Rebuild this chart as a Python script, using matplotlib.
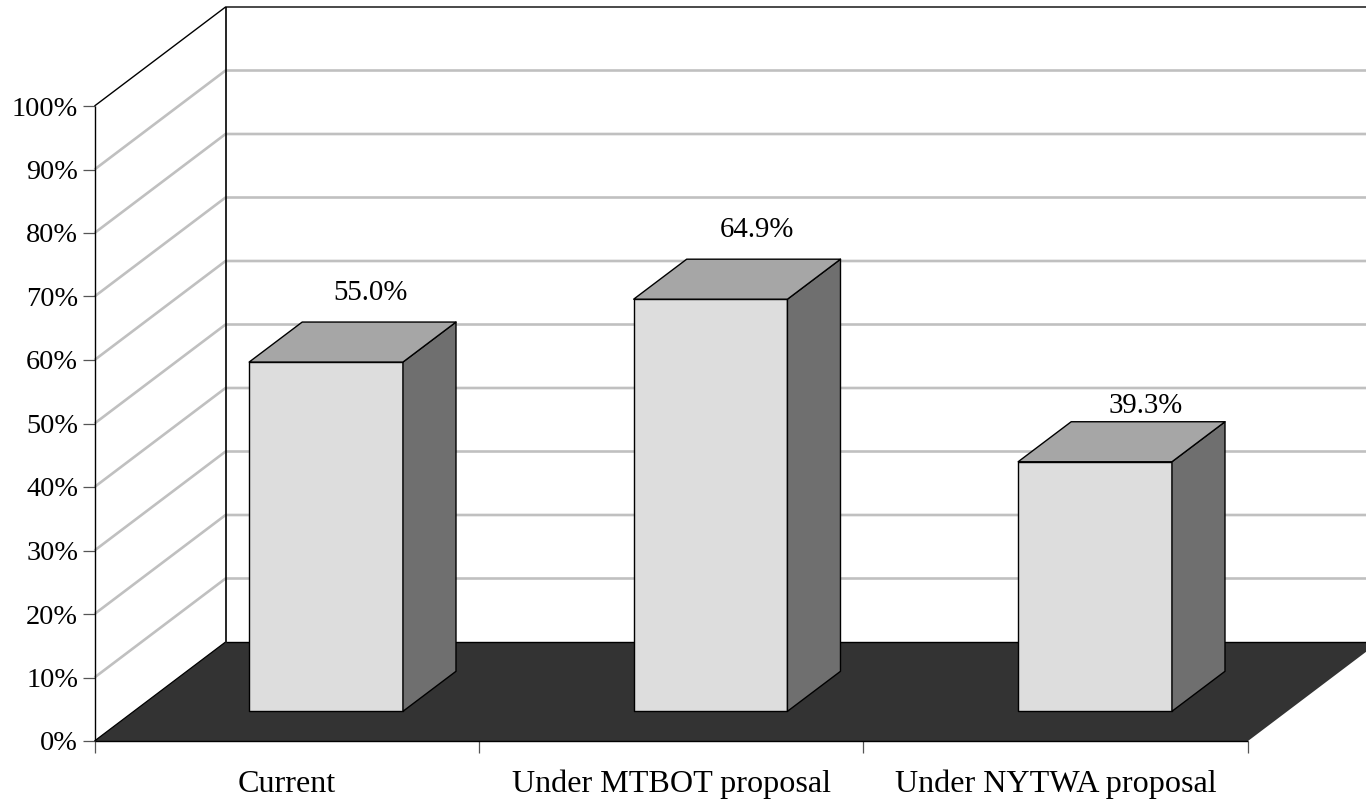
import matplotlib
matplotlib.use("Agg")
from matplotlib import pyplot as plt
from matplotlib.patches import Polygon

categories = ["Current", "Under MTBOT proposal", "Under NYTWA proposal"]
values = [55.0, 64.9, 39.3]
labels = ["55.0%", "64.9%", "39.3%"]
yticks = list(range(0, 101, 10))

W, H = 1366, 799

# depth of the fake 3d box, in axis units (384.33 px per category, 6.35 px per percent)
depth_x = 131 / 384.33
depth_y = 99 / 6.35
# bars sit part way back on the floor
bar_w = 0.4
bar_off = 0.3
dx = 53 / 384.33
dy = 40 / 6.35

plt.rcParams['font.family'] = ['Liberation Serif', 'DejaVu Serif']
fig = plt.figure(figsize=(W / 100, H / 100), dpi=100)
ax = fig.add_axes([94.5 / W, 1 - 741 / H, (1248 - 94.5) / W, (741 - 106) / H])
ax.set_xlim(0, 3)
ax.set_ylim(0, 100)
ax.patch.set_alpha(0)
for s in ax.spines.values():
    s.set_visible(False)

fig_box = plt.Rectangle((0, 0), 1, 1, transform=fig.transFigure, fill=False, lw=0)
fig.add_artist(fig_box)

def add_poly(pts, color, z, edge='black', lw=1.0):
    p = Polygon(pts, closed=True, facecolor=color, edgecolor=edge, lw=lw, zorder=z, joinstyle='round')
    ax.add_patch(p)
    p.set_clip_path(fig_box)
    return p

def add_line(xs, ys, color, lw, z):
    l, = ax.plot(xs, ys, color=color, lw=lw, zorder=z, solid_capstyle='butt')
    l.set_clip_path(fig_box)
    return l

right = 3 + depth_x

# grid on walls
for v in yticks[1:-1]:
    add_line([0, depth_x, right], [v, v + depth_y, v + depth_y], '#c0c0c0', 1.9, 1)

# walls outline
add_line([0, depth_x, right], [100, 100 + depth_y, 100 + depth_y], 'black', 1.0, 3)
add_line([0, 0], [0, 100], 'black', 1.0, 3)
add_line([depth_x, depth_x], [depth_y, 100 + depth_y], 'black', 1.2, 3)

# floor
add_poly([(0, 0), (3, 0), (right, depth_y), (depth_x, depth_y)], '#333333', 2, edge='none')
add_line([0, 3], [0, 0], 'black', 1.0, 3)
add_line([0, depth_x], [0, depth_y], 'black', 0.9, 3)
add_line([depth_x, right], [depth_y, depth_y], 'black', 1.0, 3)

# bars
for i, v in enumerate(values):
    x0 = i + 0.5 - bar_w / 2 + bar_off * depth_x
    x1 = x0 + bar_w
    y0 = bar_off * depth_y
    y1 = y0 + v
    add_poly([(x0, y0), (x1, y0), (x1, y1), (x0, y1)], '#dddddd', 5)
    add_poly([(x1, y0), (x1 + dx, y0 + dy), (x1 + dx, y1 + dy), (x1, y1)], '#6f6f6f', 5)
    add_poly([(x0, y1), (x1, y1), (x1 + dx, y1 + dy), (x0 + dx, y1 + dy)], '#a6a6a6', 5)

label_x = [0.718, 1.722, 2.733]
label_up = [8.8, 8.8, 6.8]
for i, v in enumerate(values):
    ax.text(label_x[i], bar_off * depth_y + v + label_up[i], labels[i], ha='center', va='bottom',
            fontsize=20.8, color='black', zorder=6, clip_on=False)

ax.set_yticks(yticks)
ax.set_yticklabels([f"{v}%" for v in yticks], fontsize=20.3)
ax.set_xticks([0, 1, 2, 3])
ax.set_xticklabels([])
ax.tick_params(axis='both', length=8.5, width=0.9, color='#555555', pad=5)
ax.tick_params(axis='y', pad=3.3)
for i, c in enumerate(categories):
    ax.annotate(c, (i + 0.5, 0), xytext=(0, -43), textcoords='offset pixels', ha='center', va='center',
                fontsize=23.1, annotation_clip=False)

fig.savefig("out.png", dpi=100)
